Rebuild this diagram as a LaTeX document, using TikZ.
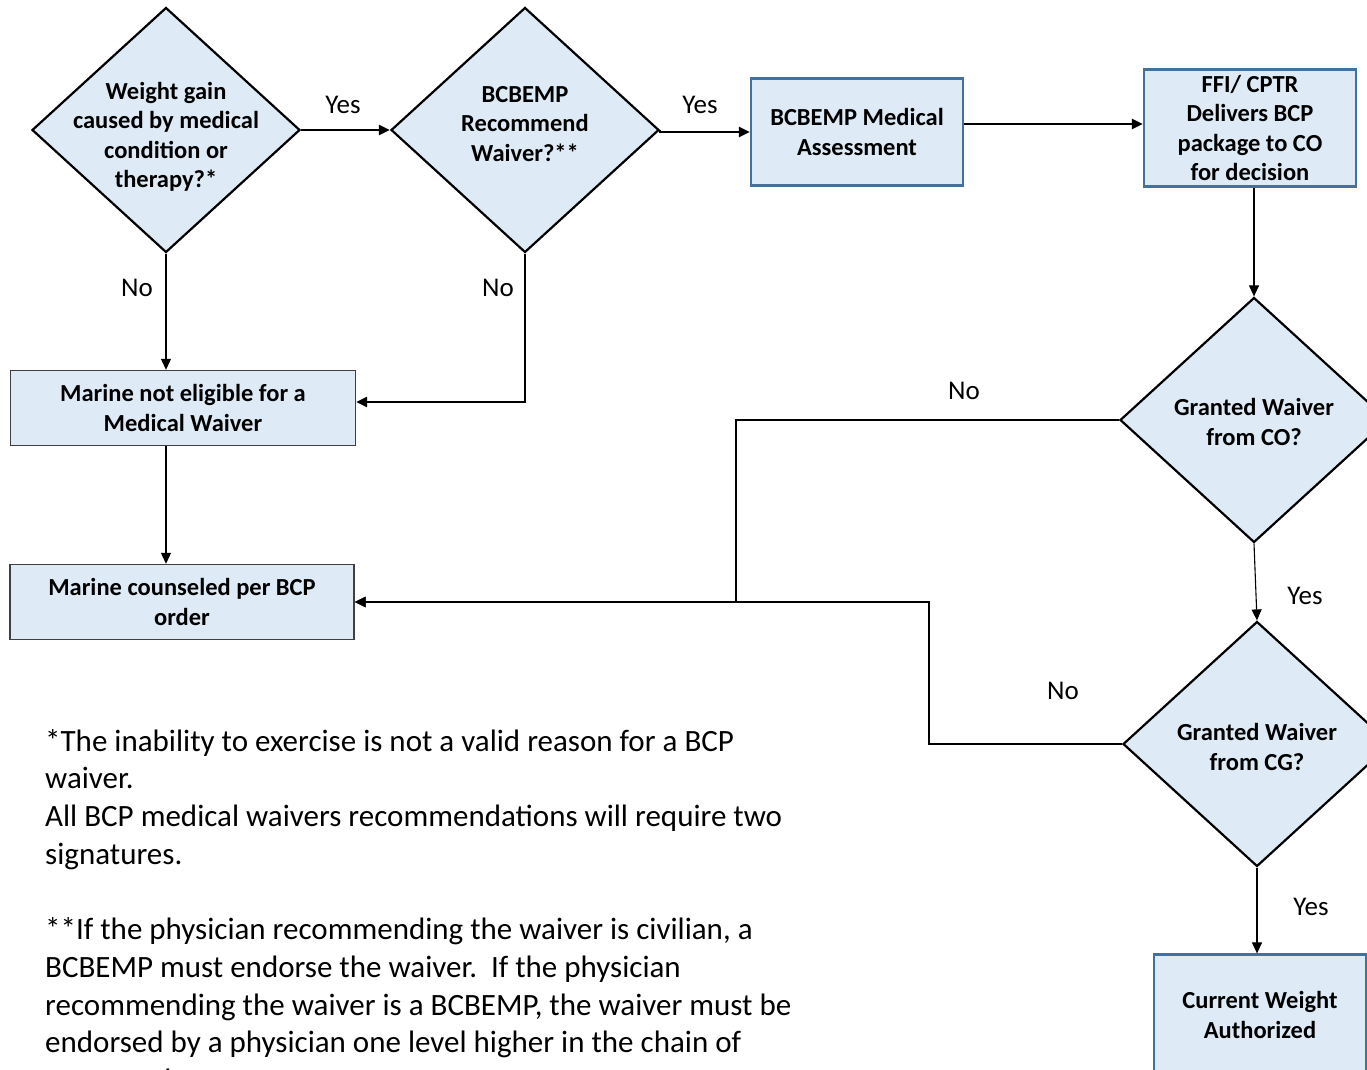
\documentclass[tikz,border=0pt]{standalone}
\usepackage{fontspec}
\setmainfont{Carlito}
\usetikzlibrary{positioning, arrows.meta, shapes.geometric}

\definecolor{boxfill}{HTML}{DEEBF7}
\definecolor{boxline}{HTML}{41719C}
\definecolor{greyline}{HTML}{404040}

\begin{document}
\begin{tikzpicture}[
  x=1pt, y=-1pt,
  >={Triangle[length=11pt, width=10pt]},
  decision/.style={diamond, draw=black, line width=2.2pt, fill=boxfill,
    minimum width=268pt, minimum height=245pt, inner sep=0pt},
  dtext/.style={font=\bfseries\fontsize{24.5}{29.5}\selectfont, align=center},
  process/.style={rectangle, draw=#1, line width=2.2pt, fill=boxfill,
    align=center, font=\bfseries\fontsize{24.5}{29.5}\selectfont, inner sep=0pt},
  process/.default={boxline},
  link/.style={->, line width=2.4pt},
  thinlink/.style={->, line width=1.1pt},
  ans/.style={font=\fontsize{27}{30}\selectfont, inner sep=0pt},
]
\useasboundingbox (0,0) rectangle (1367,1070);
\clip (0,0) rectangle (1367,1070);

% --- Decisions ---
\node[decision, label={[dtext, yshift=-7pt]center:{Weight gain\\caused by medical\\condition or\\therapy?*}}]
  (q1) at (166,130) {};
\node[decision, label={[dtext, yshift=6pt]center:{BCBEMP\\Recommend\\Waiver?**}}]
  (q2) at (525,130) {};
\node[decision, label={[dtext, yshift=-2pt]center:{Granted Waiver\\from CO?}}]
  (q3) at (1254,420) {};
\node[decision, label={[dtext, yshift=-3pt]center:{Granted Waiver\\from CG?}}]
  (q4) at (1257,744) {};

% --- Steps ---
\node[process, minimum width=212pt, minimum height=107pt] (assess) at (857,132)
  {BCBEMP Medical\\Assessment};
\node[process, minimum width=212pt, minimum height=117pt] (ffi) at (1250,128)
  {FFI/ CPTR\\Delivers BCP\\package to CO\\for decision};
\node[process, minimum width=212pt, minimum height=121pt] (cwa) at (1260,1015)
  {Current Weight\\Authorized};
\node[process=greyline, line width=1.4pt, minimum width=345pt, minimum height=75pt]
  (notelig) at (183,408) {Marine not eligible for a\\Medical Waiver};
\node[process=greyline, line width=1.4pt, minimum width=344pt, minimum height=75pt]
  (counsel) at (182,602) {Marine counseled per BCP\\order};

% --- Joins ---
\coordinate (j1) at (736,602);
\coordinate (j2) at (929,602);

% --- Connectors ---
\draw[link] (q1.east) -- (q2.west);
\draw[link] (q2.east) -- (assess.west -| q2.east) -- (assess.west);
\draw[link] ([yshift=8pt]assess.east) -- ([yshift=8pt]assess.east -| ffi.west);
\draw[thinlink] (ffi.south -| q3.north) -- (q3.north);
\draw[thinlink] (q1.south) -- (notelig.north -| q1.south);
\draw[link] (q2.south) |- ([yshift=6pt]notelig.east);
\draw[thinlink] (notelig.south -| q1.south) -- (counsel.north -| q1.south);
\draw[link] (q3.west) -| (j1) -- (counsel.east);
\draw[link] (q4.west) -| (j2) -- (counsel.east);
\draw[thinlink] (q3.south) -- (q4.north);
\draw[thinlink] (q4.south) -- (cwa.north -| q4.south);

% --- Answers ---
\node[ans] (yes1) at (343,105) {Yes};
\node[ans] (yes2) at (700,105) {Yes};
\node[ans] (no1)  at (137,288) {No};
\node[ans] (no2)  at (498,288) {No};
\node[ans] (no3)  at (964,391) {No};
\node[ans] (no4)  at (1063,691) {No};
\node[ans] (yes3) at (1305,596) {Yes};
\node[ans] (yes4) at (1311,907) {Yes};

% --- Footnotes ---
\node[anchor=north west, align=left, inner sep=0pt,
  font=\fontsize{31}{37.7}\selectfont] (notes) at (45,729)
  {*The inability to exercise is not a valid reason for a BCP\\
   waiver.\\
   All BCP medical waivers recommendations will require two\\
   signatures.\\[37.7pt]
   **If the physician recommending the waiver is civilian, a\\
   BCBEMP must endorse the waiver.\ \ If the physician\\
   recommending the waiver is a BCBEMP, the waiver must be\\
   endorsed by a physician one level higher in the chain of\\
   command.};
\end{tikzpicture}
\end{document}
